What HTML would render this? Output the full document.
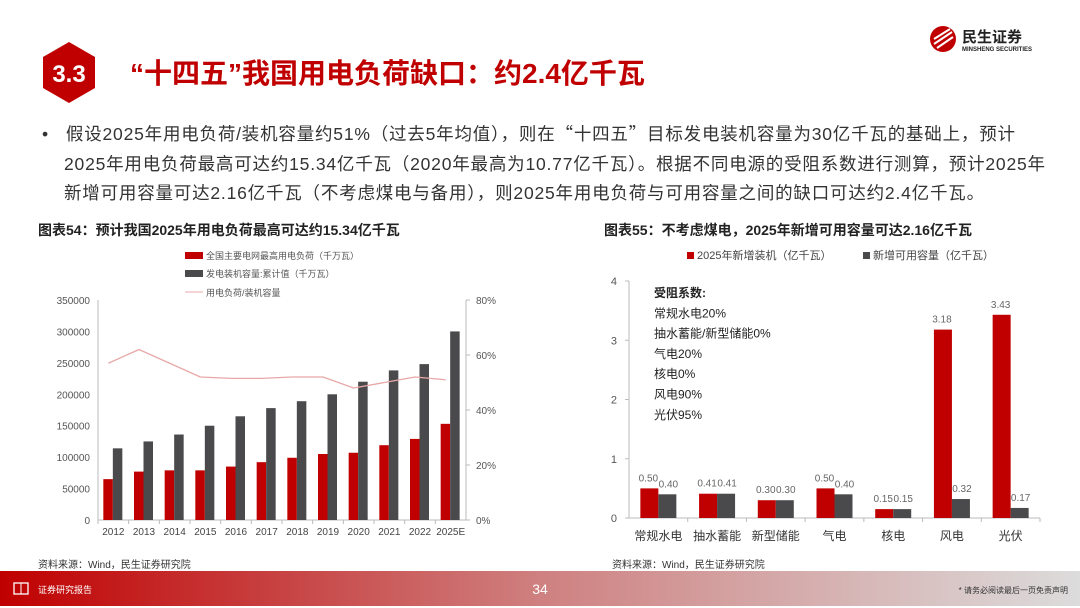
<!DOCTYPE html>
<html><head><meta charset="utf-8">
<style>
body{margin:0;width:1080px;height:608px;background:#fff;font-family:"Liberation Sans","Noto Sans CJK SC",sans-serif;overflow:hidden;position:relative}
.abs{position:absolute}
.q{font-family:"Noto Sans CJK SC",sans-serif}
</style></head><body>
<svg class="abs" style="left:0;top:0" width="1080" height="608">
<defs><linearGradient id="fg" x1="0" x2="1"><stop offset="0" stop-color="#c00000"/><stop offset="0.5" stop-color="#cf8080"/><stop offset="1" stop-color="#dcdcdc"/></linearGradient></defs>
<polygon points="69,42 95,57 95,88 69,103 43,88 43,57" fill="#c00000"/>
<text x="69" y="82" text-anchor="middle" font-size="24" font-weight="bold" fill="#fff">3.3</text>
<text x="130" y="83" font-size="28" font-weight="bold" fill="#c00000">“十四五”我国用电负荷缺口：约2.4亿千瓦</text>
<circle cx="943" cy="39" r="13" fill="#c00000"/>
<path d="M934 44 L952 32 M934 39 L950 29 M937 48 L953 37" stroke="#fff" stroke-width="2"/>
<text x="962" y="42" font-size="15" font-weight="bold" fill="#222">民生证券</text>
<text x="962" y="51" font-size="6" font-weight="bold" fill="#222">MINSHENG SECURITIES</text>
<rect x="0" y="571" width="1080" height="35" fill="url(#fg)"/>
<rect x="14" y="583" width="14" height="11" fill="none" stroke="#fff" stroke-width="1.3"/><line x1="21" y1="583" x2="21" y2="594" stroke="#fff"/>
<text x="38" y="593" font-size="9" fill="#fff">证券研究报告</text>
<text x="540" y="594" text-anchor="middle" font-size="14" fill="#fff">34</text>
<text x="1068" y="593" text-anchor="end" font-size="8" fill="#333">* 请务必阅读最后一页免责声明</text>
</svg>
<div class="abs" style="left:42px;top:119px;width:1030px;font-size:17.5px;line-height:29.5px;color:#333;white-space:nowrap;letter-spacing:0.8px">
<div>•&nbsp;&nbsp;&nbsp;假设2025年用电负荷/装机容量约51%（过去5年均值），则在<span class="q">“</span>十四五<span class="q">”</span>目标发电装机容量为30亿千瓦的基础上，预计</div>
<div style="padding-left:22px">2025年用电负荷最高可达约15.34亿千瓦（2020年最高为10.77亿千瓦）。根据不同电源的受阻系数进行测算，预计2025年</div>
<div style="padding-left:22px">新增可用容量可达2.16亿千瓦（不考虑煤电与备用），则2025年用电负荷与可用容量之间的缺口可达约2.4亿千瓦。</div></div>
<div class="abs" style="left:38px;top:220px;font-size:14px;font-weight:bold;color:#222">图表54：预计我国2025年用电负荷最高可达约15.34亿千瓦</div>
<div class="abs" style="left:604px;top:220px;font-size:14px;font-weight:bold;color:#222">图表55：不考虑煤电，2025年新增可用容量可达2.16亿千瓦</div>
<div class="abs" style="left:38px;top:556px;font-size:10px;color:#333">资料来源：Wind，民生证券研究院</div>
<div class="abs" style="left:612px;top:556px;font-size:10px;color:#333">资料来源：Wind，民生证券研究院</div>
<svg id="c1" class="abs" style="left:0;top:0" width="1080" height="608"></svg>
<script>
const years=["2012","2013","2014","2015","2016","2017","2018","2019","2020","2021","2022","2025E"];
const peakLoad=[65000,77000,79000,79000,85000,92000,99000,105000,107000,119000,129000,153000];
const capacity=[114000,125000,136000,150000,165000,178000,189000,200000,220000,238000,248000,300000];
const ratio=[0.57,0.62,0.57,0.52,0.515,0.515,0.52,0.52,0.48,0.50,0.52,0.51];
const leftTicks=[0,50000,100000,150000,200000,250000,300000,350000];
const rightTicks=[0,0.2,0.4,0.6,0.8];
const cats=["常规水电","抽水蓄能","新型储能","气电","核电","风电","光伏"];
const added=[0.50,0.41,0.30,0.50,0.15,3.18,3.43];
const usable=[0.40,0.41,0.30,0.40,0.15,0.32,0.17];
const rTicks=[0,1,2,3,4];
const NS="http://www.w3.org/2000/svg";
const svg=document.getElementById('c1');
function mk(t,a,p){const e=document.createElementNS(NS,t);for(const k in a)e.setAttribute(k,a[k]);(p||svg).appendChild(e);return e;}
const X0=98,X1=466,Y0=520,Y1=300;
const yL=v=>Y0-(v/350000)*(Y0-Y1);
const yR=v=>Y0-(v/0.8)*(Y0-Y1);
const bw=(X1-X0)/years.length;
const cx=i=>X0+bw*(i+0.5);
let e;
e=mk('line',{x1:X0,y1:Y1,x2:X0,y2:Y0,stroke:'#bbb'});

e=mk('line',{x1:X1,y1:Y1,x2:X1,y2:Y0,stroke:'#bbb'});

e=mk('line',{x1:X0,y1:Y0,x2:X1,y2:Y0,stroke:'#bbb'});

leftTicks.forEach(v=>{e=mk('text',{x:X0-8,y:yL(v)+4,'text-anchor':'end','font-size':10,fill:'#555'});e.textContent=v;
});
rightTicks.forEach(v=>{mk('line',{x1:X1,y1:yR(v),x2:X1+4,y2:yR(v),stroke:'#bbb'});e=mk('text',{x:X1+10,y:yR(v)+4,'font-size':10,fill:'#555'});e.textContent=Math.round(v*100)+'%';
});
years.forEach((y,i)=>{
 mk('line',{x1:X0+bw*i,y1:Y0,x2:X0+bw*i,y2:Y0+4,stroke:'#bbb'});
 e=mk('rect',{x:cx(i)-10,y:yL(peakLoad[i]),width:9.5,height:Y0-yL(peakLoad[i]),fill:'#c00000'});
 
 e=mk('rect',{x:cx(i)-0.5,y:yL(capacity[i]),width:9.5,height:Y0-yL(capacity[i]),fill:'#4a4a4c'});
 
 e=mk('text',{x:cx(i),y:Y0+15,'text-anchor':'middle','font-size':10,fill:'#444'});e.textContent=y;
 
});
let d='';ratio.forEach((r,i)=>{d+=(i?'L':'M')+(cx(i)-5)+' '+yR(r);});
e=mk('path',{d:d,fill:'none',stroke:'#e8a8a8','stroke-width':1.3,'stroke-linejoin':'round'});

e=mk('rect',{x:185,y:252,width:18,height:7,fill:'#c00000'});
e=mk('text',{x:206,y:259,'font-size':9,fill:'#555'});e.textContent='全国主要电网最高用电负荷（千万瓦）';
e=mk('rect',{x:185,y:270,width:18,height:7,fill:'#4a4a4c'});
e=mk('text',{x:206,y:277,'font-size':9,fill:'#555'});e.textContent='发电装机容量:累计值（千万瓦）';
e=mk('line',{x1:185,y1:292,x2:203,y2:292,stroke:'#e8a8a8'});
e=mk('text',{x:206,y:296,'font-size':9,fill:'#555'});e.textContent='用电负荷/装机容量';
const RX0=629,RX1=1040,RY0=518,RY1=281;
const yr=v=>RY0-(v/4)*(RY0-RY1);
const cw=(RX1-RX0)/cats.length;
const rc=i=>RX0+cw*(i+0.5);
e=mk('line',{x1:RX0,y1:RY1,x2:RX0,y2:RY0,stroke:'#bbb'});
e=mk('line',{x1:RX0,y1:RY0,x2:RX1,y2:RY0,stroke:'#bbb'});
rTicks.forEach(v=>{mk('line',{x1:RX0-4,y1:yr(v),x2:RX0,y2:yr(v),stroke:'#bbb'});e=mk('text',{x:RX0-12,y:yr(v)+4,'text-anchor':'end','font-size':11,fill:'#555'});e.textContent=v;
});
cats.forEach((c,i)=>{
 mk('line',{x1:RX0+cw*(i+1),y1:RY0,x2:RX0+cw*(i+1),y2:RY0+4,stroke:'#bbb'});
 e=mk('rect',{x:rc(i)-18,y:yr(added[i]),width:18,height:RY0-yr(added[i]),fill:'#c00000'});
 
 e=mk('rect',{x:rc(i),y:yr(usable[i]),width:18,height:RY0-yr(usable[i]),fill:'#4a4a4c'});
 
 e=mk('text',{x:rc(i)-10,y:yr(added[i])-7,'text-anchor':'middle','font-size':10,fill:'#666'});e.textContent=added[i].toFixed(2);
 
 e=mk('text',{x:rc(i)+10,y:yr(usable[i])-7,'text-anchor':'middle','font-size':10,fill:'#666'});e.textContent=usable[i].toFixed(2);
 
 e=mk('text',{x:rc(i),y:RY0+22,'text-anchor':'middle','font-size':12,fill:'#333'});e.textContent=c;
 
});
e=mk('rect',{x:687,y:252,width:7,height:7,fill:'#c00000'});
e=mk('text',{x:697,y:259,'font-size':11,fill:'#444'});e.textContent='2025年新增装机（亿千瓦）';
e=mk('rect',{x:863,y:252,width:7,height:7,fill:'#4a4a4c'});
e=mk('text',{x:873,y:259,'font-size':11,fill:'#444'});e.textContent='新增可用容量（亿千瓦）';
const notes=["受阻系数:","常规水电20%","抽水蓄能/新型储能0%","气电20%","核电0%","风电90%","光伏95%"];
notes.forEach((n,i)=>{e=mk('text',{x:654,y:297+i*20.3,'font-size':12,fill:'#222','font-weight':i?'normal':'bold'});e.textContent=n;
});
</script>
</body></html>
